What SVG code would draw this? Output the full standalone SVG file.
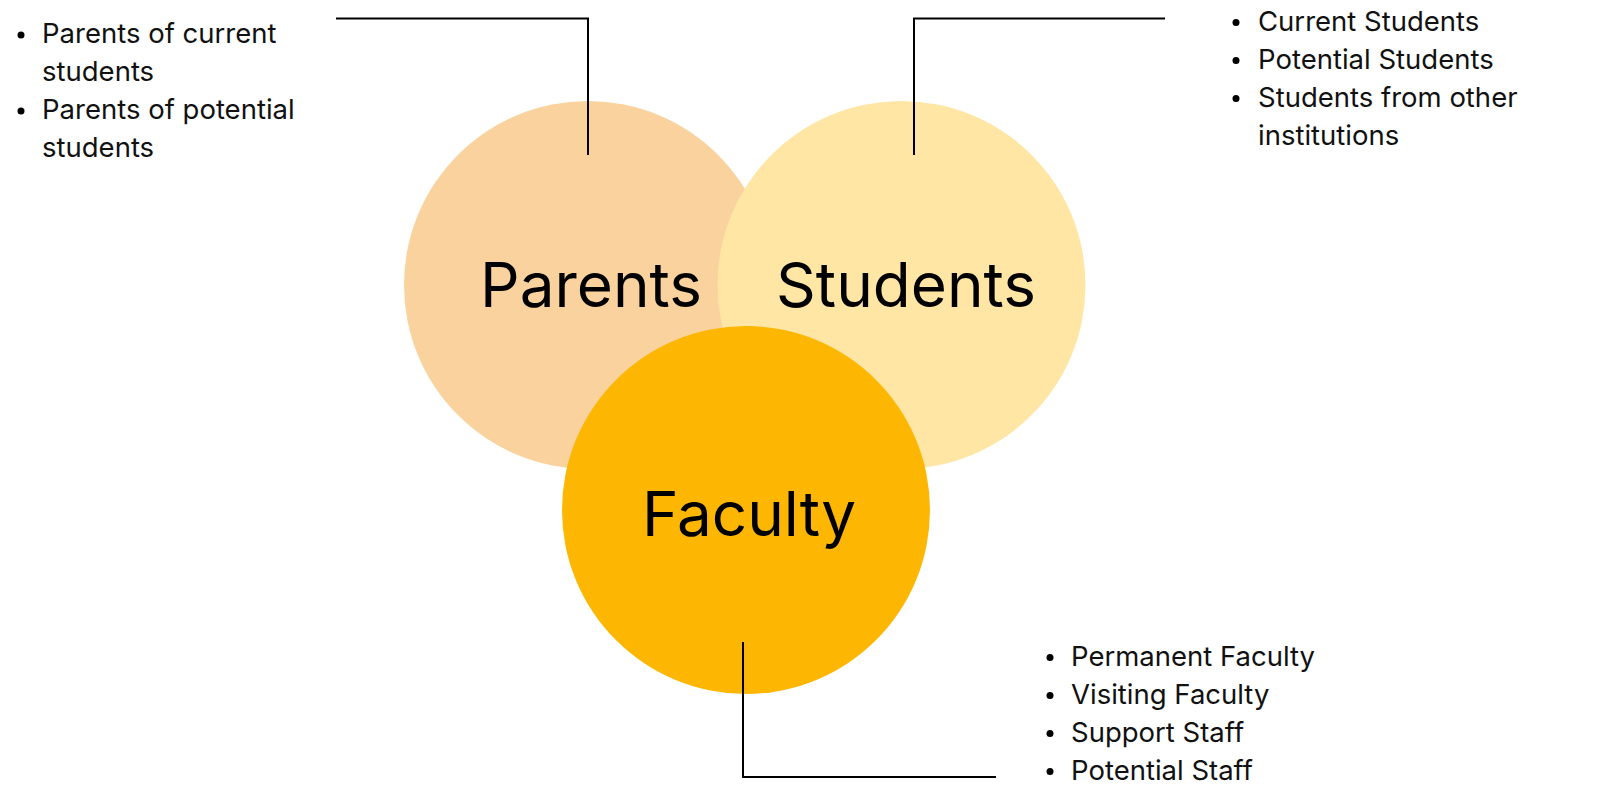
<svg xmlns="http://www.w3.org/2000/svg" width="1612" height="787" viewBox="0 0 1612 787">
<style>
.big{font-family:Inter,"Noto Sans","Liberation Sans",sans-serif;font-size:62px;fill:#000;text-anchor:middle}
.item{font-family:Inter,"Noto Sans","Liberation Sans",sans-serif;font-size:27.5px;fill:#111}
.conn{fill:none;stroke:#000;stroke-width:2}
.dot{fill:#000}
</style>
<rect width="1612" height="787" fill="#fff"/>
<g id="parents">
<circle cx="588" cy="285" r="184" fill="#FAD29E"/>
<text class="big" x="591" y="307">Parents</text>
</g>
<g id="students">
<circle cx="901.5" cy="285" r="184" fill="#FFE6A5"/>
<text class="big" x="906" y="307">Students</text>
</g>
<g id="faculty">
<circle cx="746" cy="510" r="184" fill="#FDB703"/>
<text class="big" x="749" y="536">Faculty</text>
</g>
<g id="connectors">
<polyline class="conn" points="336,18.5 588,18.5 588,155"/>
<polyline class="conn" points="1165,18.5 914,18.5 914,155"/>
<polyline class="conn" points="743,642 743,777 996,777"/>
</g>
<g id="parents-list">
<circle class="dot" cx="21" cy="35" r="3.5"/>
<circle class="dot" cx="21" cy="111" r="3.5"/>
<text class="item" x="42" y="43">Parents of current</text>
<text class="item" x="42" y="81">students</text>
<text class="item" x="42" y="119">Parents of potential</text>
<text class="item" x="42" y="157">students</text>
</g>
<g id="students-list">
<circle class="dot" cx="1236" cy="22.5" r="3.5"/>
<circle class="dot" cx="1236" cy="60.5" r="3.5"/>
<circle class="dot" cx="1236" cy="98.5" r="3.5"/>
<text class="item" x="1258" y="30.5">Current Students</text>
<text class="item" x="1258" y="68.5">Potential Students</text>
<text class="item" x="1258" y="106.5">Students from other</text>
<text class="item" x="1258" y="144.5">institutions</text>
</g>
<g id="faculty-list">
<circle class="dot" cx="1050" cy="657.5" r="3.5"/>
<circle class="dot" cx="1050" cy="695.5" r="3.5"/>
<circle class="dot" cx="1050" cy="733.5" r="3.5"/>
<circle class="dot" cx="1050" cy="771.5" r="3.5"/>
<text class="item" x="1071" y="665.5">Permanent Faculty</text>
<text class="item" x="1071" y="703.5">Visiting Faculty</text>
<text class="item" x="1071" y="741.5">Support Staff</text>
<text class="item" x="1071" y="779.5">Potential Staff</text>
</g>
</svg>
